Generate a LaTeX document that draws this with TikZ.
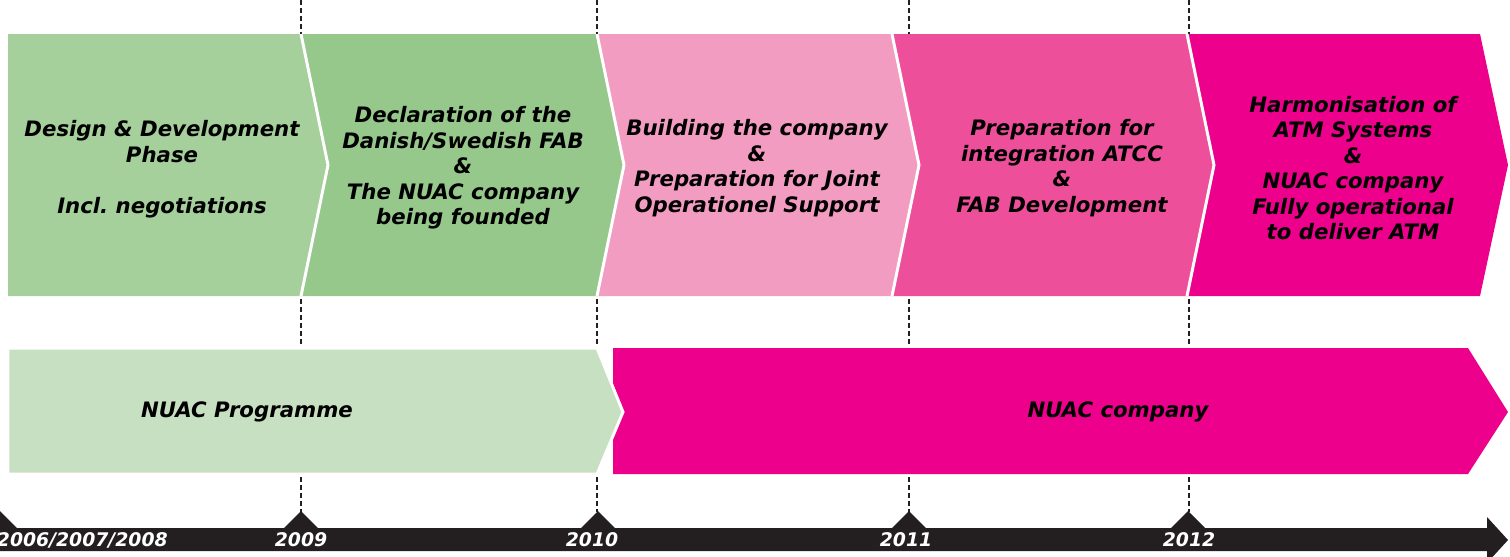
\documentclass[tikz,border=0pt]{standalone}
\usepackage{fontspec}
\setmainfont{DejaVu Sans}
\definecolor{gA}{RGB}{165,207,155}
\definecolor{gB}{RGB}{150,199,139}
\definecolor{pA}{RGB}{242,156,193}
\definecolor{pB}{RGB}{238,79,154}
\definecolor{pC}{RGB}{236,0,140}
\definecolor{gL}{RGB}{200,224,194}
\definecolor{tl}{RGB}{35,31,32}
\tikzset{
  sep/.style={draw=white, line width=1.7pt},
  dashln/.style={draw=tl, line width=1.5pt, dash pattern=on 2.8pt off 1.8pt},
  lbl/.style={font=\fontsize{12.1}{14.5}\selectfont\bfseries\itshape, align=center, text=black, inner sep=0pt},
  yr/.style={font=\fontsize{10.7}{12}\selectfont\bfseries\itshape, text=white, inner sep=0pt}
}
\begin{document}
\frenchspacing
\begin{tikzpicture}[x=0.02cm,y=-0.02cm]
\useasboundingbox (0,0) rectangle (1510,556);
% dashed year lines
\foreach \x in {301,597,909,1189} \draw[dashln] (\x,0) -- (\x,512);
% top chevrons
\fill[gA] (8,34) -- (301,34) -- (328,165) -- (301,296) -- (8,296) -- cycle;
\fill[gB] (301,34) -- (597,34) -- (624,165) -- (597,296) -- (301,296) -- (328,165) -- cycle;
\fill[pA] (597,34) -- (892,34) -- (919,165) -- (892,296) -- (597,296) -- (624,165) -- cycle;
\fill[pB] (892,34) -- (1187,34) -- (1214,165) -- (1187,296) -- (892,296) -- (919,165) -- cycle;
\fill[pC] (1187,34) -- (1480,34) -- (1508,165) -- (1480,296) -- (1187,296) -- (1214,165) -- cycle;
\draw[sep] (301,34) -- (328,165) -- (301,296);
\draw[sep] (597,34) -- (624,165) -- (597,296);
\draw[sep] (892,34) -- (919,165) -- (892,296);
\draw[sep] (1187,34) -- (1214,165) -- (1187,296);
% bottom arrows
\fill[pC] (613,348) -- (1468,348) -- (1508,412) -- (1468,474) -- (613,474) -- cycle;
\filldraw[fill=gL, draw=white, line width=1.7pt] (8,348) -- (597,348) -- (623,412) -- (597,474) -- (8,474) -- cycle;
% timeline
\fill[tl] (-30,528) -- (1487,528) -- (1487,517) -- (1508,540) -- (1487,563) -- (1487,551) -- (-30,551) -- cycle;
\foreach \x in {0,301,598,909,1188} \fill[tl] (\x-17,528) -- (\x,511) -- (\x+17,528) -- cycle;
% labels
\node[lbl] (t1) at (162,169) {Design \& Development\\Phase\\[14.5pt]Incl.\ negotiations};
\node[lbl] (t2) at (463,168) {Declaration of the\\Danish/Swedish FAB\\\&\\The NUAC company\\being founded};
\node[lbl] (t3) at (757,168) {Building the company\\\&\\Preparation for Joint\\Operationel Support};
\node[lbl] (t4) at (1062,168) {Preparation for\\integration ATCC\\\&\\FAB Development};
\node[lbl] (t5) at (1353,168) {Harmonisation of\\ATM Systems\\\&\\NUAC company\\Fully operational\\to deliver ATM};
\node[lbl] (b1) at (247,412) {NUAC Programme};
\node[lbl] (b2) at (1118,412) {NUAC company};
% years
\node[yr, anchor=east] (y0) at (168,540) {2006/2007/2008};
\node[yr] (y1) at (301,540) {2009};
\node[yr] (y2) at (592,540) {2010};
\node[yr] (y3) at (906,540) {2011};
\node[yr] (y4) at (1189,540) {2012};
\end{tikzpicture}
\end{document}
